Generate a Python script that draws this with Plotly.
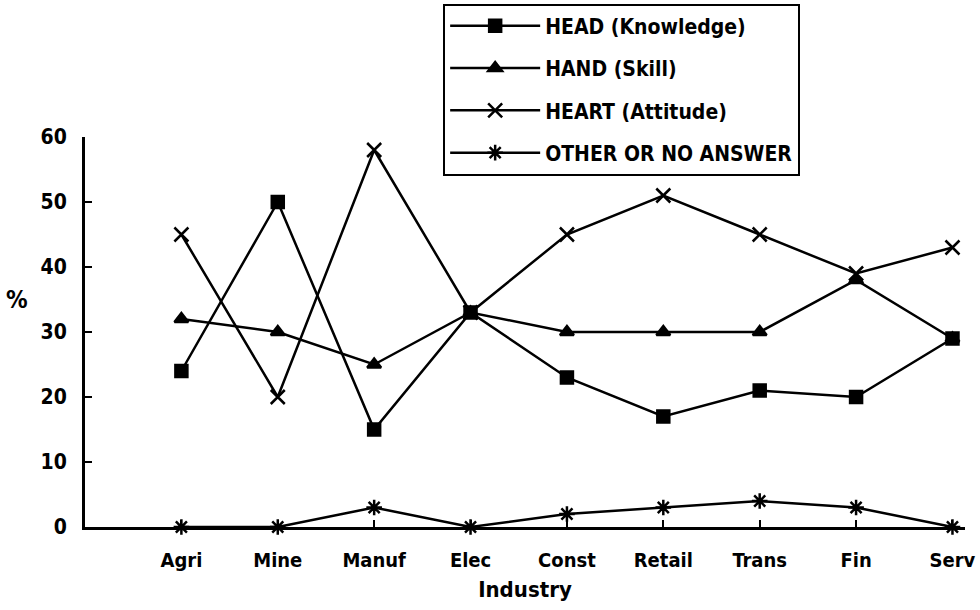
import plotly.graph_objects as go

industries = ["Agri", "Mine", "Manuf", "Elec", "Const", "Retail", "Trans", "Fin", "Serv"]
head = [24, 50, 15, 33, 23, 17, 21, 20, 29]
hand = [32, 30, 25, 33, 30, 30, 30, 38, 29]
heart = [45, 20, 58, 33, 45, 51, 45, 39, 43]
other = [0, 0, 3, 0, 2, 3, 4, 3, 0]
y_ticks = [0, 10, 20, 30, 40, 50, 60]

series = [
    ("HEAD (Knowledge)", head, "square", 12),
    ("HAND (Skill)", hand, "triangle-up", 12),
    ("HEART (Attitude)", heart, "x-thin-open", 14),
    ("OTHER OR NO ANSWER", other, "asterisk-open", 13),
]

FONT = "DejaVu Sans Condensed, DejaVu Sans, sans-serif"
xpos = list(range(len(industries)))

fig = go.Figure()
for i, (name, vals, sym, size) in enumerate(series):
    fig.add_trace(go.Scatter(
        x=xpos, y=vals, name=name, mode="lines+markers",
        legendgroup=f"g{i}",
        line=dict(color="black", width=2.5),
        marker=dict(symbol=sym, size=size, color="black",
                    line=dict(color="black", width=2.5)),
        cliponaxis=False,
    ))

fig.update_layout(
    width=980, height=610,
    margin=dict(l=85, r=15, t=137, b=83, autoexpand=False),
    paper_bgcolor="white", plot_bgcolor="white",
    font=dict(family=FONT, color="black", size=15, weight="bold"),
    showlegend=True,
    legend=dict(
        x=0.407, y=1.342, xanchor="left", yanchor="top",
        bordercolor="black", borderwidth=2, bgcolor="white",
        font=dict(family=FONT, size=21, color="black", weight="bold"),
        tracegroupgap=12, itemwidth=90, entrywidth=245,
    ),
    xaxis=dict(
        range=[-1, 8.13], tickvals=xpos, ticktext=industries,
        showgrid=False, zeroline=False, showline=True, linecolor="black", linewidth=3,
        ticks="inside", ticklen=7, tickwidth=2, tickcolor="black",
        tickfont=dict(family=FONT, size=20, weight="bold"),
        ticklabelstandoff=13,
        title=dict(text="Industry", font=dict(family=FONT, size=22, weight="bold"), standoff=11),
    ),
    yaxis=dict(
        range=[0, 60], tickvals=y_ticks,
        showgrid=False, zeroline=False, showline=True, linecolor="black", linewidth=3,
        ticks="inside", ticklen=7, tickwidth=2, tickcolor="black",
        tickfont=dict(family=FONT, size=21, weight="bold"),
        ticklabelstandoff=11,
    ),
    annotations=[dict(
        text="%", xref="paper", yref="paper", x=-0.077, y=0.582,
        showarrow=False, font=dict(family=FONT, size=24, weight="bold"),
        xanchor="center", yanchor="middle",
    )],
)

fig.write_html("out.html")
